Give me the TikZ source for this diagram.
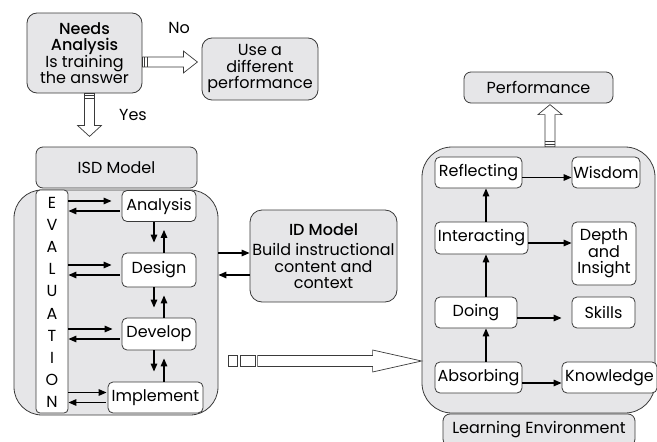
\documentclass[tikz,border=0pt]{standalone}
\usepackage{fontspec}
\setmainfont{Poppins}[BoldFont={* Medium}]
\usetikzlibrary{positioning, arrows.meta, calc}
\definecolor{boxgray}{HTML}{E6E6E8}
\definecolor{edgegray}{HTML}{3A3A3A}

\begin{document}
\begin{tikzpicture}[x=1pt, y=-1pt, font=\fontsize{16}{16.5}\selectfont]
	% Define styles
	\tikzset{
		graybox/.style={draw=edgegray, line width=0.8pt, fill=boxgray, rounded corners=7pt, align=center, inner sep=1pt},
		whitebox/.style={draw=edgegray, line width=0.8pt, fill=white, rounded corners=5pt, align=center, inner sep=1pt, minimum height=31pt},
		line/.style={draw, line width=1.4pt, -{Triangle[length=8pt, width=6.5pt]}},
		hollow/.style={draw=edgegray, line width=0.7pt, fill=white},
		stripe/.style={draw=edgegray, line width=1pt}
	}
	\useasboundingbox (0,0) rectangle (657,442);
	
	% Containers
	\node[graybox, rounded corners=28pt, minimum width=204pt, minimum height=225pt] (isd) at (116,302.5) {};
	\node[graybox, rounded corners=30pt, minimum width=233pt, minimum height=266pt] (lenv) at (538.5,280) {};
	
	% Needs analysis
	\node[graybox, rounded corners=10pt, minimum width=115pt, minimum height=80pt] (needs) at (84.5,53) {\textbf{Needs}\\\textbf{Analysis}\\Is training\\the answer};
	\node[graybox, rounded corners=10pt, minimum width=116pt, minimum height=62pt] (use) at (260,69) {Use a\\different\\performance};
	\node (no) at (179,28) {No};
	\node (yes) at (133,115) {Yes};
	
	% ISD model
	\node[graybox, minimum width=161pt, minimum height=41pt] (isdhead) at (116.5,167.5) {ISD Model};
	\node[draw=edgegray, line width=0.8pt, fill=white, rounded corners=4pt, minimum width=32pt, minimum height=223pt] (eval) at (52,301.5) {};
	\foreach \l [count=\i from 0] in {E,V,A,L,U,A,T,I,O,N}
		\node (ev\i) at (52,203+22.1*\i) {\l};
	
	\node[whitebox, minimum width=74pt] (analysis) at (159,206) {Analysis};
	\node[whitebox, minimum width=74pt, minimum height=34pt] (design) at (159,270) {Design};
	\node[whitebox, minimum width=74pt, minimum height=32pt] (develop) at (159,334) {Develop};
	\node[whitebox, minimum width=95pt] (implement) at (155.5,397.5) {Implement};
	
	% ID model
	\node[graybox, rounded corners=12pt, minimum width=147pt, minimum height=92pt] (idm) at (323.5,256) {\textbf{ID Model}\\[4pt]Build instructional\\content and\\context};
	
	% Learning environment
	\node[graybox, minimum width=149pt, minimum height=31pt] (perf) at (538.5,87.5) {Performance};
	\node[graybox, minimum width=192pt, minimum height=32pt] (lehead) at (539,430) {Learning Environment};
	
	\node[whitebox, minimum width=87pt] (reflect) at (478.5,172.5) {Reflecting};
	\node[whitebox, minimum width=68pt] (wisdom) at (606,172.5) {Wisdom};
	\node[whitebox, minimum width=93pt, minimum height=32pt] (interact) at (481.5,238) {Interacting};
	\node[whitebox, minimum width=64pt, minimum height=63pt] (depth) at (604,253.5) {Depth\\and\\Insight};
	\node[whitebox, minimum width=82pt] (doing) at (476,312.5) {Doing};
	\node[whitebox, minimum width=63pt] (skills) at (603.5,312.5) {Skills};
	\node[whitebox, minimum width=87pt] (absorb) at (478.5,377.5) {Absorbing};
	\node[whitebox, minimum width=95pt] (knowledge) at (609.5,377.5) {Knowledge};
	
	% Hollow arrows
	\draw[hollow] ($(needs.east)+(0,4)$) -- ++(41,0) -- ++(0,-6) -- ++(14,11) -- ++(-14,11) -- ++(0,-6) -- ++(-41,0) -- cycle;
	\draw[stripe] ($(needs.east)+(2,4)$) -- ++(0,10);
	\draw[stripe] ($(needs.east)+(5,4)$) -- ++(0,10);
	
	\draw[hollow] (needs.south) -- ++(0,32) -- ++(-7,0) -- ++(12,11) -- ++(12,-11) -- ++(-7,0) -- ++(0,-32) -- cycle;
	\draw[stripe] ($(needs.south)+(0,2)$) -- ++(10,0);
	\draw[stripe] ($(needs.south)+(0,5)$) -- ++(10,0);
	
	\draw[hollow] ($(lenv.west)+(0,81)$) -- ++(-49,-11) -- ++(0,5.5) -- ++(-115,0) -- ++(0,11) -- ++(115,0) -- ++(0,5.5) -- cycle;
	\draw[hollow] (228,355.5) rectangle (237,366.5);
	\draw[hollow] (240,355.5) rectangle (255,366.5);
	
	\draw[hollow] ($(lenv.north)+(6.5,0)$) -- ++(0,-32) -- ++(-7,0) -- ++(12,-10) -- ++(12,10) -- ++(-7,0) -- ++(0,32) -- cycle;
	\draw[stripe] ($(lenv.north)+(6.5,-2)$) -- ++(10,0);
	\draw[stripe] ($(lenv.north)+(6.5,-5)$) -- ++(10,0);
	
	% Arrows
	\foreach \b/\g in {analysis/10, design/10, develop/9, implement/1} {
		\draw[line] ([yshift=5pt]eval.east |- \b.west) -- ([xshift=-\g pt, yshift=5pt]\b.west);
		\draw[line] ([xshift=-2pt, yshift=-5pt]\b.west) -- ([yshift=-5pt]eval.east |- \b.west);
	}
	
	\coordinate (dnx) at (154,0);
	\coordinate (upx) at (164,0);
	\path [line] (dnx |- analysis.south) -- ([yshift=10pt]dnx |- design.north);
	\path [line] (upx |- design.north) -- ([yshift=-8pt]upx |- analysis.south);
	\path [line] (dnx |- design.south) -- ([yshift=10pt]dnx |- develop.north);
	\path [line] (upx |- develop.north) -- ([yshift=-8pt]upx |- design.south);
	\path [line] (dnx |- develop.south) -- ([yshift=10pt]dnx |- implement.north);
	\path [line] (upx |- implement.north) -- ([yshift=-8pt]upx |- develop.south);
	
	\path [line] ([yshift=3pt]isd.east |- idm.west) -- ([yshift=3pt]idm.west);
	\path [line] ([yshift=-19pt]idm.west) -- ([yshift=-19pt]isd.east |- idm.west);
	
	\coordinate (lx) at (486,0);
	\path [line] (lx |- interact.north) -- (lx |- reflect.south);
	\path [line] (lx |- doing.north) -- (lx |- interact.south);
	\path [line] (lx |- absorb.north) -- (lx |- doing.south);
	
	\path [line] ([yshift=-5pt]reflect.east) -- ([yshift=-5pt]reflect.east -| wisdom.west);
	\path [line] ([yshift=-5pt]interact.east) -- ([yshift=-5pt]interact.east -| depth.west);
	\path [line] ([yshift=-5.5pt]doing.east) -- ([xshift=-10pt, yshift=-5.5pt]doing.east -| skills.west);
	\path [line] ([yshift=-5.5pt]absorb.east) -- ([yshift=-5.5pt]absorb.east -| knowledge.west);
\end{tikzpicture}
\end{document}
